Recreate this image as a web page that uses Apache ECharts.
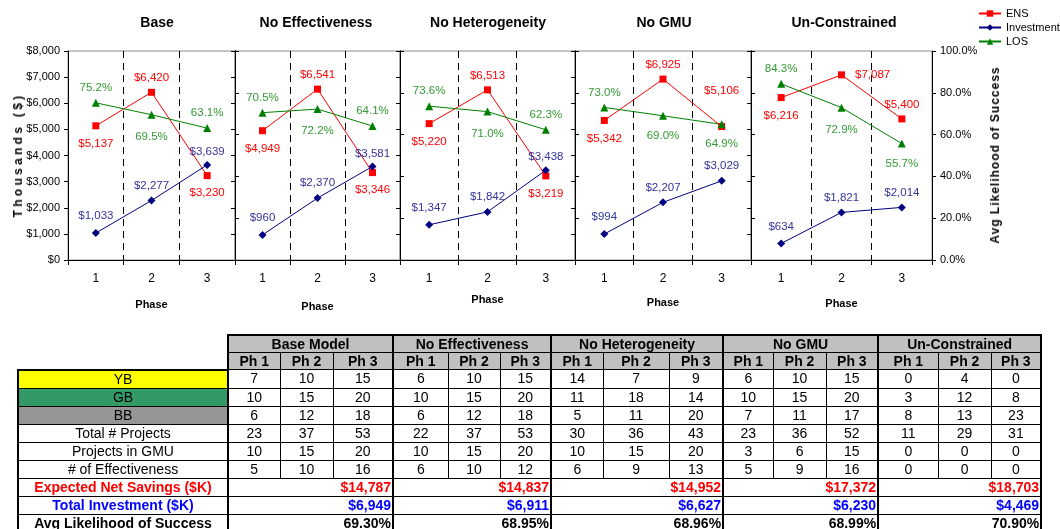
<!DOCTYPE html>
<html>
<head>
<meta charset="utf-8">
<title>Phase results by scenario</title>
<script src="https://cdn.jsdelivr.net/npm/echarts@6/dist/echarts.min.js"></script>
<style>
  html, body { margin: 0; padding: 0; background: #fff; }
  #wrap { position: relative; width: 1060px; height: 529px; overflow: hidden;
          font-family: "Liberation Sans", Arial, sans-serif; }
  #chart { position: absolute; left: 0; top: 0; width: 1060px; height: 529px; }
  .axis-title { position: absolute; font-weight: bold; font-size: 12px; white-space: nowrap;
                color: #000; transform: translate(-50%, -50%) rotate(-90deg); }
  #tbl { position: absolute; left: 17px; top: 334px; border-collapse: collapse; table-layout: fixed;
         width: 1023px; font-family: "Liberation Sans", Arial, sans-serif; font-size: 14px; color: #000; }
  #tbl td { border: 1px solid #000; padding: 0; line-height: 15px; text-align: center;
            overflow: hidden; white-space: nowrap; }
  #tbl tr.h td { height: 16px; }
  #tbl tr.b td { height: 17px; }
  #tbl td.blank { border: none; background: #fff; }
  #tbl td.hd { background: #c0c0c0; font-weight: bold; border-top-width: 2px; }
  #tbl td.gs { border-left: 2px solid #000; }
  #tbl td.last { border-right: 2px solid #000; }
  #tbl td.lab { border-left: 2px solid #000; border-right: 2px solid #000; }
  #tbl tr.first td.lab { border-top: 2px solid #000; }
  #tbl td.tot { text-align: right; padding-right: 1px; font-weight: bold; }
</style>
</head>
<body>
<div id="wrap">
  <div id="chart"></div>
  <div class="axis-title" style="left:18px; top:155px; letter-spacing:3.3px;">Thousands ($)</div>
  <div class="axis-title" style="left:995px; top:155px; letter-spacing:1px;">Avg Likelihood of Success</div>
  <table id="tbl"></table>
</div>
<script>
// ---- chart data ----
const scenarios = ['Base', 'No Effectiveness', 'No Heterogeneity', 'No GMU', 'Un-Constrained'];
const phases = ['1', '2', '3'];

// Expected net savings per phase ($K)
const ensBase = [5137, 6420, 3230];
const ensNoEff = [4949, 6541, 3346];
const ensNoHet = [5220, 6513, 3219];
const ensNoGmu = [5342, 6925, 5106];
const ensUnc = [6216, 7087, 5400];

// Investment per phase ($K)
const invBase = [1033, 2277, 3639];
const invNoEff = [960, 2370, 3581];
const invNoHet = [1347, 1842, 3438];
const invNoGmu = [994, 2207, 3029];
const invUnc = [634, 1821, 2014];

// Likelihood of success per phase (%)
const losBase = [75.2, 69.5, 63.1];
const losNoEff = [70.5, 72.2, 64.1];
const losNoHet = [73.6, 71.0, 62.3];
const losNoGmu = [73.0, 69.0, 64.9];
const losUnc = [84.3, 72.9, 55.7];

const dollarTicks = { min: 0, max: 8000, interval: 1000 };
const pctTicks = { min: 0, max: 100, interval: 20 };

// ---- table data ----
const tableHeads = ['Base Model', 'No Effectiveness', 'No Heterogeneity', 'No GMU', 'Un-Constrained'];
const phaseHeads = ['Ph 1', 'Ph 2', 'Ph 3'];
const rowLabels = ['YB', 'GB', 'BB', 'Total # Projects', 'Projects in GMU', '# of Effectiveness'];
const ybCounts = [[7, 10, 15], [6, 10, 15], [14, 7, 9], [6, 10, 15], [0, 4, 0]];
const gbCounts = [[10, 15, 20], [10, 15, 20], [11, 18, 14], [10, 15, 20], [3, 12, 8]];
const bbCounts = [[6, 12, 18], [6, 12, 18], [5, 11, 20], [7, 11, 17], [8, 13, 23]];
const totalProjects = [[23, 37, 53], [22, 37, 53], [30, 36, 43], [23, 36, 52], [11, 29, 31]];
const gmuProjects = [[10, 15, 20], [10, 15, 20], [10, 15, 20], [3, 6, 15], [0, 0, 0]];
const effCounts = [[5, 10, 16], [6, 10, 12], [6, 9, 13], [5, 9, 16], [0, 0, 0]];
const totalEns = [14787, 14837, 14952, 17372, 18703];
const totalInv = [6949, 6911, 6627, 6230, 4469];
const avgLos = [69.30, 68.95, 68.96, 68.99, 70.90];

// ---- layout & style ----
const FONT = '"Liberation Sans", Arial, sans-serif';
const ensSets = [ensBase, ensNoEff, ensNoHet, ensNoGmu, ensUnc];
const invSets = [invBase, invNoEff, invNoHet, invNoGmu, invUnc];
const losSets = [losBase, losNoEff, losNoHet, losNoGmu, losUnc];

const gridLeft = [68, 235, 400, 575, 751];
const gridWidth = [167, 165, 175, 176, 181];
const gridTop = 51, gridHeight = 209;
const titleCenter = [157, 316, 488, 664, 844];
const phaseGap = [39, 41, 34, 37, 38];
const LABEL_SIZE = 11.5;

// label placement for each point: [position, distance]
const ensPlace = [
  [['bottom', 9], ['top', 5], ['bottom', 8]],
  [['bottom', 9], ['top', 5], ['bottom', 8]],
  [['bottom', 9], ['top', 5], ['bottom', 8]],
  [['bottom', 9], ['top', 5], ['top', 26]],
  [['bottom', 9], ['right', 10], ['top', 5]]
];
const invPlace = [
  [['top', 7], ['top', 5], ['top', 3]],
  [['top', 7], ['top', 5], ['top', 3]],
  [['top', 7], ['top', 5], ['top', 3]],
  [['top', 7], ['top', 5], ['top', 5]],
  [['top', 7], ['top', 5], ['top', 5]]
];
const losPlace = [
  [['top', 5], ['bottom', 12], ['top', 5]],
  [['top', 5], ['bottom', 12], ['top', 5]],
  [['top', 5], ['bottom', 12], ['top', 5]],
  [['top', 5], ['bottom', 10], ['bottom', 9]],
  [['top', 5], ['bottom', 12], ['bottom', 10]]
];

const RED = '#ff0000', NAVY = '#000080', GREEN = '#008000';
const NAVY_LABEL = '#333399', GREEN_LABEL = '#339933';

const money = v => '$' + Number(v).toLocaleString('en-US');
const pct1 = v => Number(v).toFixed(1) + '%';

function points(values, place, fmt, color) {
  return values.map((v, k) => ({
    value: v,
    label: {
      show: true,
      position: place[k][0],
      distance: place[k][1],
      formatter: () => fmt(v),
      color: color,
      fontSize: LABEL_SIZE,
      fontFamily: FONT
    }
  }));
}

const grids = [], xAxes = [], yAxes = [], series = [], titles = [];

scenarios.forEach((name, i) => {
  grids.push({
    left: gridLeft[i], width: gridWidth[i], top: gridTop, height: gridHeight,
    show: true, borderColor: '#8c8c8c', borderWidth: 1, backgroundColor: 'transparent'
  });
  titles.push({
    text: name, left: titleCenter[i], top: 16, textAlign: 'center', padding: 0,
    textStyle: { fontSize: 14, fontWeight: 'bold', color: '#000', fontFamily: FONT }
  });
  xAxes.push({
    gridIndex: i, type: 'category', data: phases, boundaryGap: true,
    axisLine: { lineStyle: { color: '#000', width: 1 } },
    axisTick: { show: true, length: 5, lineStyle: { color: '#000' } },
    axisLabel: { color: '#000', fontSize: 12, margin: 13, fontFamily: FONT },
    splitLine: { show: true, showMinLine: false, showMaxLine: false,
                 lineStyle: { color: '#000', type: [7, 5], width: 1 } },
    name: 'Phase', nameLocation: 'middle', nameGap: phaseGap[i],
    nameTextStyle: { fontWeight: 'bold', fontSize: 11, color: '#000', fontFamily: FONT }
  });
  yAxes.push({
    gridIndex: i, type: 'value', position: 'left',
    min: dollarTicks.min, max: dollarTicks.max, interval: dollarTicks.interval,
    axisLine: { show: true, lineStyle: { color: '#000', width: 1 } },
    axisTick: { show: true, length: 4, lineStyle: { color: '#000' } },
    axisLabel: { show: i === 0, color: '#000', fontSize: 11, margin: 8, fontFamily: FONT, formatter: money },
    splitLine: { show: false }
  });
  yAxes.push({
    gridIndex: i, type: 'value', position: 'right',
    min: pctTicks.min, max: pctTicks.max, interval: pctTicks.interval,
    axisLine: { show: true, lineStyle: { color: '#000', width: 1 } },
    axisTick: { show: true, length: 4, lineStyle: { color: '#000' } },
    axisLabel: { show: i === scenarios.length - 1, color: '#000', fontSize: 11, margin: 8,
                 fontFamily: FONT, formatter: pct1 },
    splitLine: { show: false }
  });

  series.push({
    name: 'ENS', type: 'line', xAxisIndex: i, yAxisIndex: 2 * i,
    data: points(ensSets[i], ensPlace[i], money, RED),
    symbol: 'rect', symbolSize: 7, color: RED,
    lineStyle: { color: RED, width: 1 }, itemStyle: { color: RED }, z: 3
  });
  series.push({
    name: 'Investment', type: 'line', xAxisIndex: i, yAxisIndex: 2 * i,
    data: points(invSets[i], invPlace[i], money, NAVY_LABEL),
    symbol: 'diamond', symbolSize: 8, color: NAVY,
    lineStyle: { color: NAVY, width: 1 }, itemStyle: { color: NAVY }, z: 3
  });
  series.push({
    name: 'LOS', type: 'line', xAxisIndex: i, yAxisIndex: 2 * i + 1,
    data: points(losSets[i], losPlace[i], pct1, GREEN_LABEL),
    symbol: 'triangle', symbolSize: 8, color: GREEN,
    lineStyle: { color: GREEN, width: 1 }, itemStyle: { color: GREEN }, z: 3
  });
});

const chart = echarts.init(document.getElementById('chart'), null, { renderer: 'canvas' });
chart.setOption({
  animation: false,
  backgroundColor: '#fff',
  textStyle: { fontFamily: FONT },
  title: titles,
  legend: {
    orient: 'vertical', left: 978, top: 8, padding: 0,
    itemWidth: 22, itemHeight: 8, itemGap: 3,
    data: ['ENS', 'Investment', 'LOS'],
    textStyle: { fontSize: 11, color: '#000', fontFamily: FONT }
  },
  grid: grids,
  xAxis: xAxes,
  yAxis: yAxes,
  series: series
});

// ---- summary table ----
function buildTable() {
  const cols = [210, 52, 53, 60, 55, 52, 51, 52, 66, 54, 50, 53, 52, 60, 53, 50];
  let html = '<colgroup>' + cols.map(w => '<col style="width:' + w + 'px">').join('') + '</colgroup>';

  html += '<tr class="h"><td class="blank"></td>' +
    tableHeads.map((h, g) => '<td colspan="3" class="hd gs' + (g === tableHeads.length - 1 ? ' last' : '') + '">' + h + '</td>').join('') +
    '</tr>';
  html += '<tr class="h"><td class="blank"></td>';
  tableHeads.forEach((h, g) => {
    phaseHeads.forEach((p, k) => {
      let cls = 'hd';
      if (k === 0) cls += ' gs';
      if (g === tableHeads.length - 1 && k === 2) cls += ' last';
      html += '<td class="' + cls + '" style="border-top-width:1px">' + p + '</td>';
    });
  });
  html += '</tr>';

  const bodies = [ybCounts, gbCounts, bbCounts, totalProjects, gmuProjects, effCounts];
  const labelBg = ['#ffff00', '#339966', '#969696', '#fff', '#fff', '#fff'];
  bodies.forEach((rows, r) => {
    html += '<tr class="b' + (r === 0 ? ' first' : '') + '"><td class="lab" style="background:' + labelBg[r] + '">' + rowLabels[r] + '</td>';
    rows.forEach((vals, g) => {
      vals.forEach((v, k) => {
        let cls = '';
        if (k === 0) cls += ' gs';
        if (g === rows.length - 1 && k === 2) cls += ' last';
        html += '<td class="' + cls.trim() + '">' + v + '</td>';
      });
    });
    html += '</tr>';
  });

  const totals = [
    ['Expected Net Savings ($K)', totalEns, money, '#ff0000'],
    ['Total Investment ($K)', totalInv, money, '#0000ff'],
    ['Avg Likelihood of Success', avgLos, v => v.toFixed(2) + '%', '#000']
  ];
  totals.forEach(([label, vals, fmt, color]) => {
    html += '<tr class="b"><td class="lab" style="font-weight:bold;color:' + color + '">' + label + '</td>';
    vals.forEach((v, g) => {
      html += '<td colspan="3" class="tot gs' + (g === vals.length - 1 ? ' last' : '') + '" style="color:' + color + '">' + fmt(v) + '</td>';
    });
    html += '</tr>';
  });
  document.getElementById('tbl').innerHTML = html;
}
buildTable();
</script>
</body>
</html>
